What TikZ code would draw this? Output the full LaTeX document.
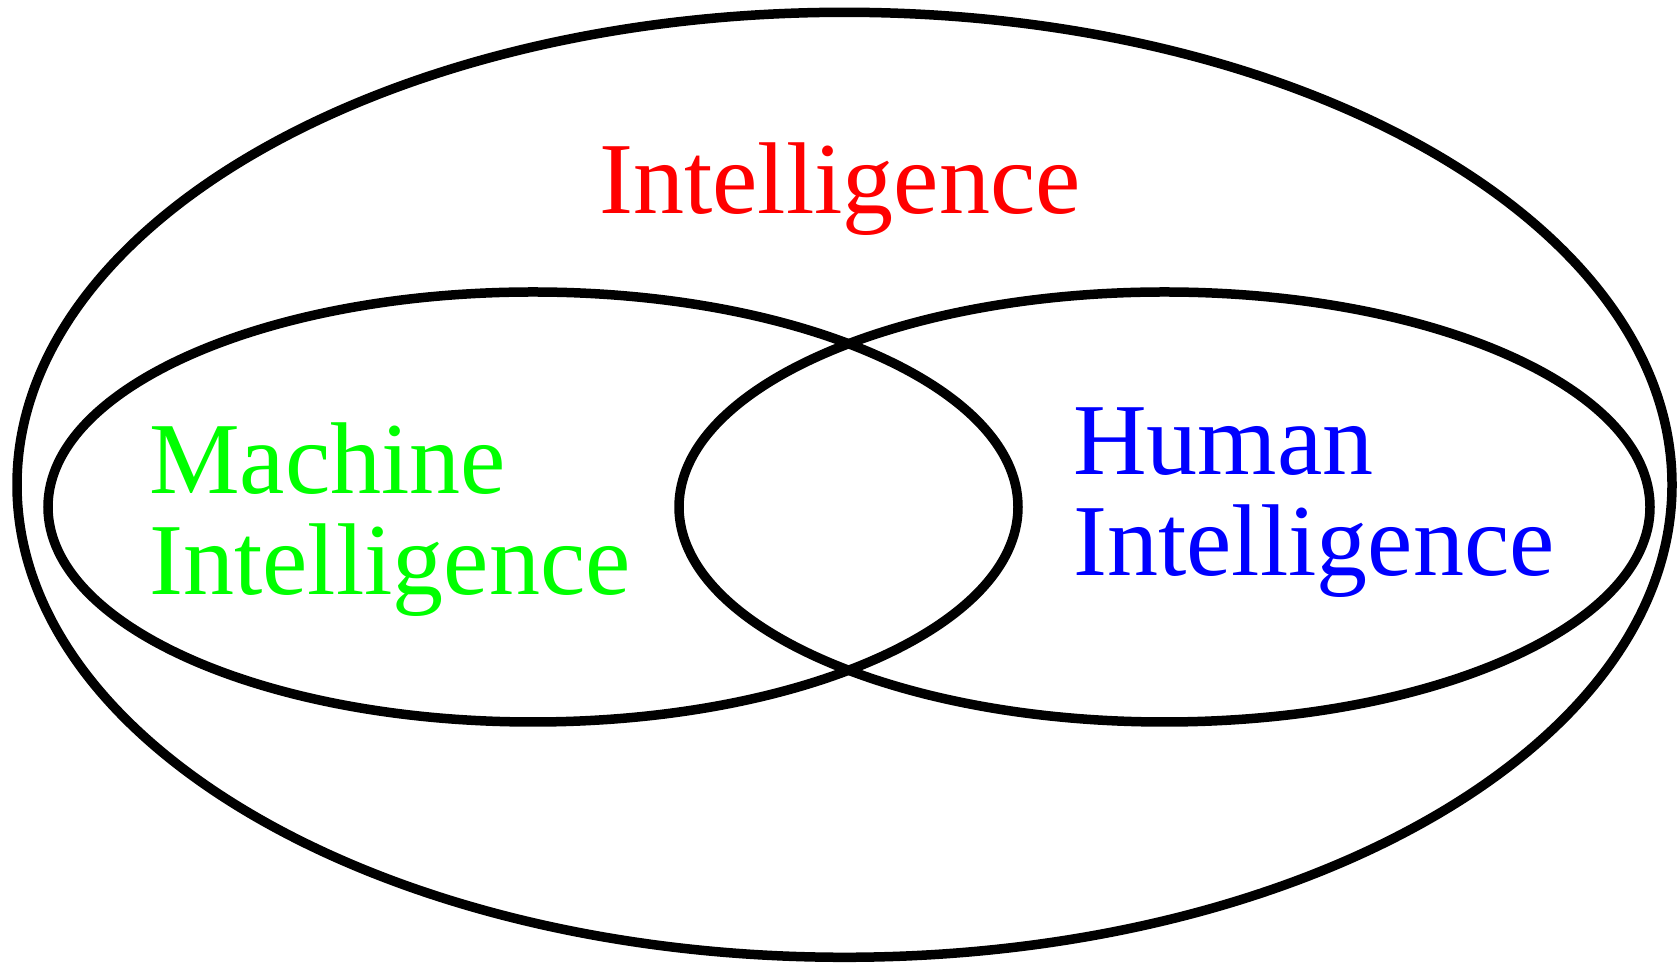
\documentclass[tikz,border=0pt]{standalone}
\usepackage{fontspec}
\setmainfont{Liberation Serif}
\usepackage{xcolor}
\usepackage{tikz}
\definecolor{setred}{RGB}{255,0,0}
\definecolor{setgreen}{RGB}{0,255,0}
\definecolor{setblue}{RGB}{0,0,255}

\begin{document}
\begin{tikzpicture}[
    x=1pt,y=1pt,
    set/.style={draw=black,line width=9.5pt},
    label/.style={inner sep=0pt,align=left,font=\fontsize{102}{101}\selectfont}
  ]
    \useasboundingbox (0,0) rectangle (1679,963);
    \draw[set] (844.5,478.2) ellipse [x radius=827.5,y radius=472.5];
    \draw[set] (533,456) ellipse [x radius=485,y radius=215];
    \draw[set] (1164.5,456) ellipse [x radius=485.5,y radius=215];

    \node[label,text=setred,anchor=base] (all) at (840,749.5) {Intelligence};
    \node[label,text=setgreen,anchor=base west] (machine) at (149,368) {Machine\\Intelligence};
    \node[label,text=setblue,anchor=base west] (human) at (1073,387) {Human\\Intelligence};
  \end{tikzpicture}
\end{document}
